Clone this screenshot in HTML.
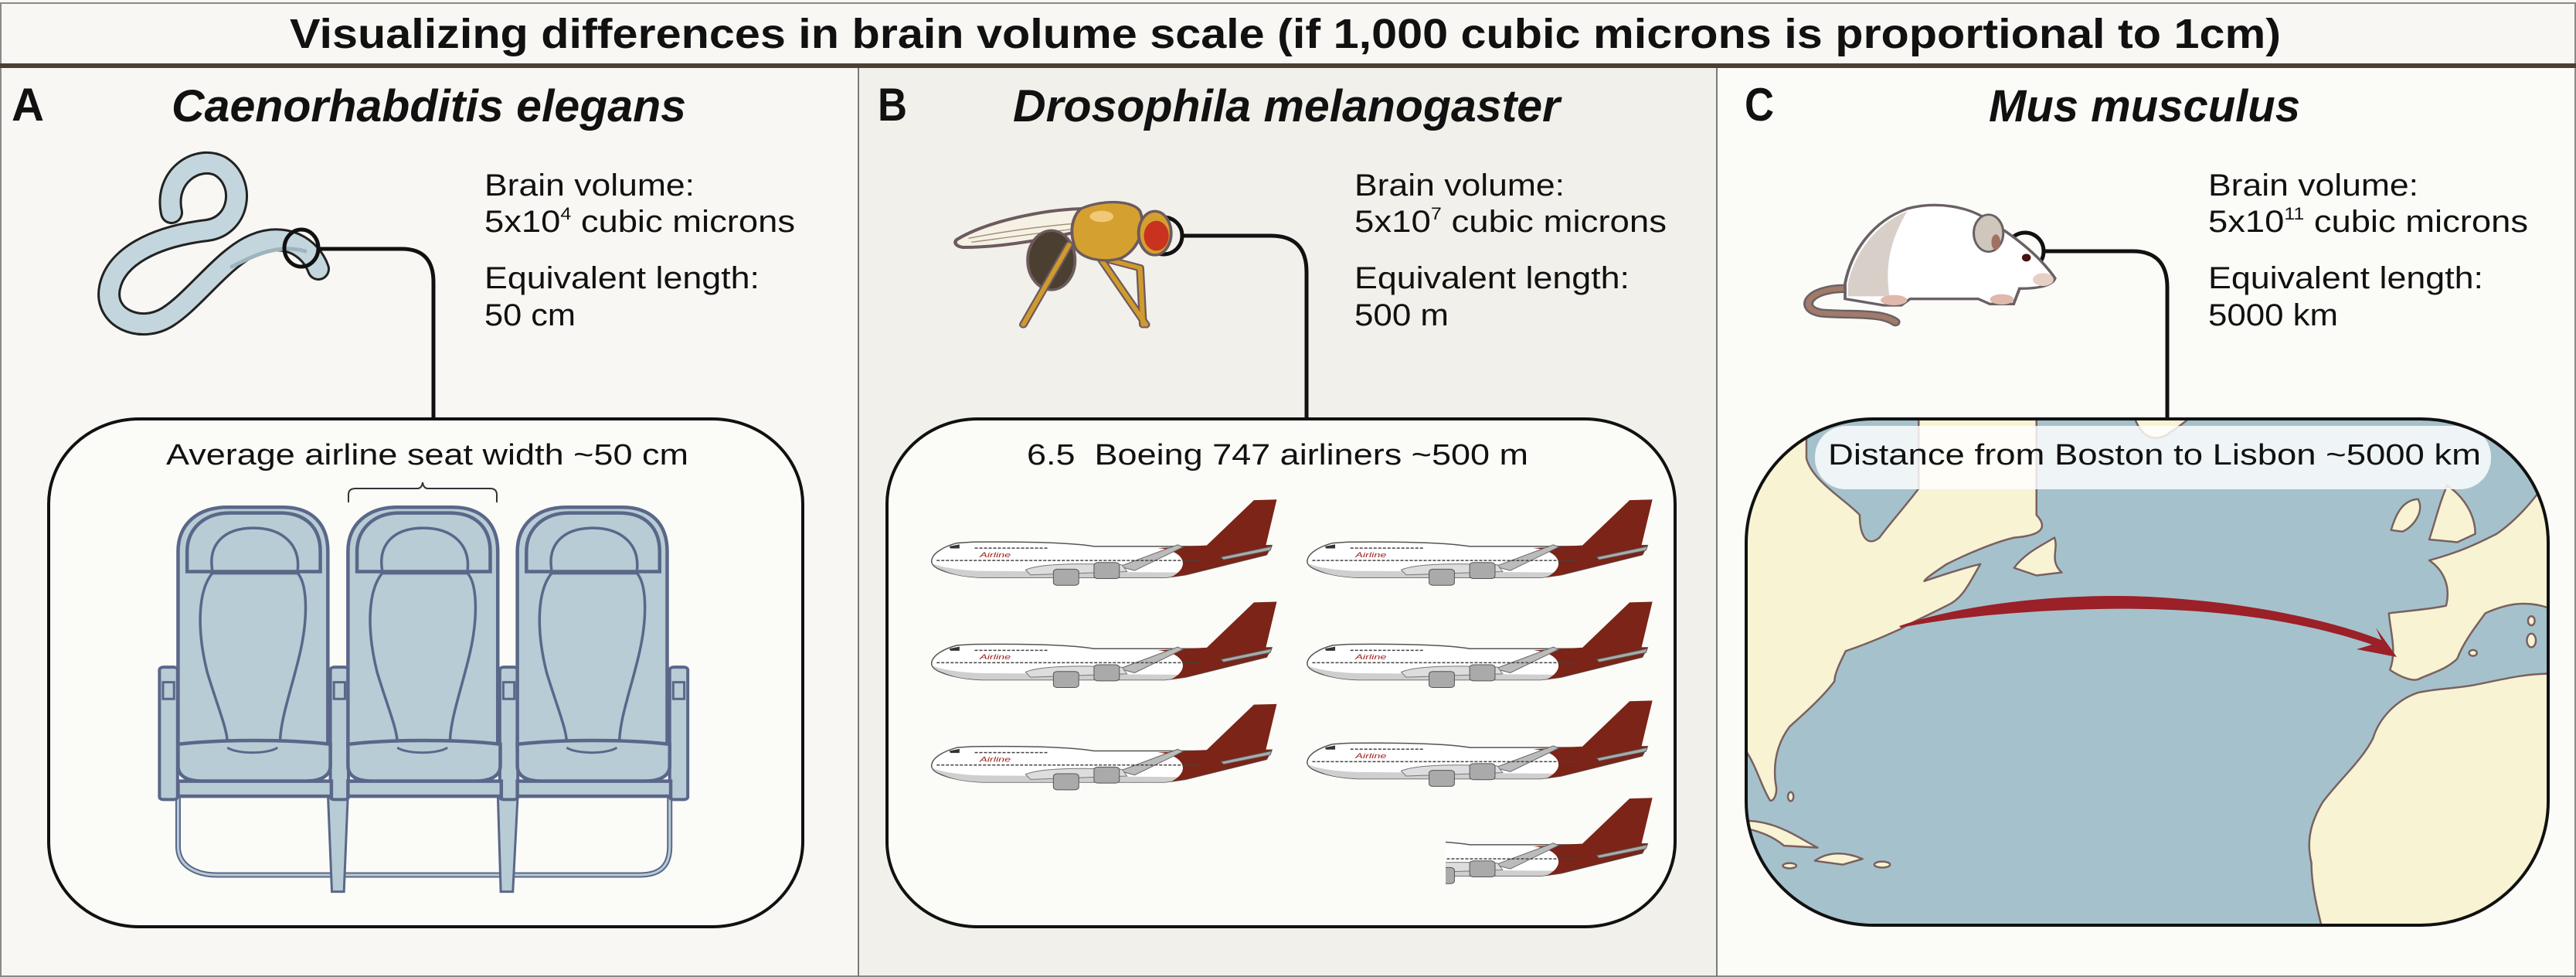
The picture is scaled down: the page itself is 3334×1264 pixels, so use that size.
<!DOCTYPE html>
<html><head><meta charset="utf-8"><style>
html,body{margin:0;padding:0;background:#f8f7f3;}
svg{display:block;}
text{font-family:"Liberation Sans",sans-serif;}
</style></head><body>
<svg width="3334" height="1264" viewBox="0 0 3334 1264" xmlns="http://www.w3.org/2000/svg">
<defs>
<clipPath id="mapclip"><rect x="2260" y="542" width="1038" height="655" rx="165" ry="160"/></clipPath>
<clipPath id="partclip"><rect x="1871" y="1020" width="300" height="140"/></clipPath>
<g id="pl">
 <path d="M5,185 C5,160 30,140 55,130 L85,127 C200,125 285,130 325,140 L545,140 L675,137 L665,165 L505,225 L465,233 L105,233 C55,230 5,210 5,185 Z" fill="#ffffff" stroke="#555" stroke-width="1.5" vector-effect="non-scaling-stroke"/>
 <path d="M5,190 C30,220 60,230 105,233 L465,233 L505,225 L520,218 L100,213 C50,210 20,200 5,190 Z" fill="#cfcfcf"/>
 <path d="M545,140 L640,2 L685,0 L663,140 Z" fill="#7b2417"/>
 <path d="M450,145 C500,150 520,200 475,233 L505,225 L665,165 L675,137 L545,137 Z" fill="#7b2417"/>
 <path d="M575,172 L675,140 L672,152 L580,180 Z" fill="#aaa" stroke="#555" stroke-width="1" vector-effect="non-scaling-stroke"/>
 <path d="M375,200 L490,135 L500,142 L405,212 Z" fill="#bbb" stroke="#666" stroke-width="1" vector-effect="non-scaling-stroke"/>
 <path d="M190,210 C220,190 300,190 380,195 L390,215 L200,225 Z" fill="#ddd" stroke="#777" stroke-width="1" vector-effect="non-scaling-stroke"/>
 <rect x="245" y="208" width="50" height="48" rx="8" fill="#aaa" stroke="#555" stroke-width="1" vector-effect="non-scaling-stroke"/>
 <rect x="325" y="188" width="50" height="48" rx="8" fill="#aaa" stroke="#555" stroke-width="1" vector-effect="non-scaling-stroke"/>
 <path d="M40,140 L60,134 L60,146 L42,146 Z" fill="#333"/>
 <line x1="15" y1="182" x2="535" y2="182" stroke="#444" stroke-width="1.5" stroke-dasharray="4 2" vector-effect="non-scaling-stroke"/>
 <line x1="90" y1="145" x2="235" y2="145" stroke="#444" stroke-width="1.5" stroke-dasharray="4 2" vector-effect="non-scaling-stroke"/>
 <text x="100" y="172" font-size="22" font-style="italic" fill="#a02020" font-family="Liberation Serif, serif">Airline</text>
</g>
<g id="seat">
 <path d="M262,980 L262,400 C262,320 300,268 360,268 L470,268 C530,268 560,320 560,400 L560,980 Z" fill="#b7ccd5" stroke="#5a6789" stroke-width="4.5" vector-effect="non-scaling-stroke"/>
 <path d="M280,460 L280,400 C280,335 312,285 365,285 L465,285 C520,285 545,335 545,400 L545,460 Z" fill="#b7ccd5" stroke="#5a6789" stroke-width="4.5" vector-effect="non-scaling-stroke"/>
 <path d="M330,455 C322,380 352,330 412,330 C470,330 505,380 500,455" fill="none" stroke="#5a6789" stroke-width="3.5" vector-effect="non-scaling-stroke"/>
 <path d="M330,465 C300,520 300,640 320,760 C340,860 360,930 360,970 L465,970 C465,900 490,800 505,700 C520,600 520,500 500,465 Z" fill="none" stroke="#5a6789" stroke-width="3.5" vector-effect="non-scaling-stroke"/>
 <path d="M262,975 L262,1040 C262,1070 280,1085 310,1085 L515,1085 C545,1085 565,1070 565,1040 L565,975 C480,960 350,960 262,975 Z" fill="#b7ccd5" stroke="#5a6789" stroke-width="4.5" vector-effect="non-scaling-stroke"/>
 <path d="M360,985 C380,1005 440,1005 460,985" fill="none" stroke="#5a6789" stroke-width="3" vector-effect="non-scaling-stroke"/>
 <rect x="262" y="1085" width="305" height="45" fill="#b7ccd5" stroke="#5a6789" stroke-width="4.5" vector-effect="non-scaling-stroke"/>
</g>
<g id="arm">
 <rect x="225" y="745" width="36" height="395" rx="8" fill="#b7ccd5" stroke="#5a6789" stroke-width="4" vector-effect="non-scaling-stroke"/>
 <rect x="232" y="790" width="22" height="50" fill="#b7ccd5" stroke="#5a6789" stroke-width="3" vector-effect="non-scaling-stroke"/>
</g>
</defs>

<!-- backgrounds -->
<rect x="0" y="0" width="3334" height="1264" fill="#f8f7f3"/>
<rect x="1111" y="88" width="1111" height="1176" fill="#f1f0ea"/>
<rect x="2222" y="88" width="1112" height="1176" fill="#fbfbf7"/>
<rect x="1" y="4" width="3332" height="1259" fill="none" stroke="#8a8a8a" stroke-width="2"/>
<rect x="0" y="82" width="3334" height="6" fill="#4b4032"/>
<line x1="1111" y1="88" x2="1111" y2="1264" stroke="#7a7a7a" stroke-width="2"/>
<line x1="2222" y1="88" x2="2222" y2="1264" stroke="#7a7a7a" stroke-width="2"/>

<!-- title -->
<text x="375" y="62" font-size="54" font-weight="bold" fill="#111" textLength="2577" lengthAdjust="spacingAndGlyphs">Visualizing differences in brain volume scale (if 1,000 cubic microns is proportional to 1cm)</text>

<!-- headings -->
<text x="15" y="156" font-size="60" font-weight="bold" fill="#111" textLength="42" lengthAdjust="spacingAndGlyphs">A</text>
<text x="222" y="157" font-size="58" font-weight="bold" font-style="italic" fill="#111" textLength="666" lengthAdjust="spacingAndGlyphs">Caenorhabditis elegans</text>
<text x="1136" y="156" font-size="60" font-weight="bold" fill="#111" textLength="38" lengthAdjust="spacingAndGlyphs">B</text>
<text x="1311" y="157" font-size="58" font-weight="bold" font-style="italic" fill="#111" textLength="708" lengthAdjust="spacingAndGlyphs">Drosophila melanogaster</text>
<text x="2258" y="156" font-size="60" font-weight="bold" fill="#111" textLength="38" lengthAdjust="spacingAndGlyphs">C</text>
<text x="2574" y="157" font-size="58" font-weight="bold" font-style="italic" fill="#111" textLength="403" lengthAdjust="spacingAndGlyphs">Mus musculus</text>

<!-- info texts -->
<g font-size="40" fill="#111">
 <text x="627" y="253" textLength="272" lengthAdjust="spacingAndGlyphs">Brain volume:</text>
 <text x="627" y="300" textLength="402" lengthAdjust="spacingAndGlyphs">5x10<tspan font-size="22" dy="-16">4</tspan><tspan dy="16"> cubic microns</tspan></text>
 <text x="627" y="373" textLength="356" lengthAdjust="spacingAndGlyphs">Equivalent length:</text>
 <text x="627" y="421" textLength="118" lengthAdjust="spacingAndGlyphs">50 cm</text>

 <text x="1753" y="253" textLength="272" lengthAdjust="spacingAndGlyphs">Brain volume:</text>
 <text x="1753" y="300" textLength="404" lengthAdjust="spacingAndGlyphs">5x10<tspan font-size="22" dy="-16">7</tspan><tspan dy="16"> cubic microns</tspan></text>
 <text x="1753" y="373" textLength="356" lengthAdjust="spacingAndGlyphs">Equivalent length:</text>
 <text x="1753" y="421" textLength="122" lengthAdjust="spacingAndGlyphs">500 m</text>

 <text x="2858" y="253" textLength="272" lengthAdjust="spacingAndGlyphs">Brain volume:</text>
 <text x="2858" y="300" textLength="414" lengthAdjust="spacingAndGlyphs">5x10<tspan font-size="22" dy="-16">11</tspan><tspan dy="16"> cubic microns</tspan></text>
 <text x="2858" y="373" textLength="356" lengthAdjust="spacingAndGlyphs">Equivalent length:</text>
 <text x="2858" y="421" textLength="168" lengthAdjust="spacingAndGlyphs">5000 km</text>
</g>

<!-- worm -->
<g fill="none" stroke-linecap="round" stroke-linejoin="round">
 <path d="M222,275 C212,228 255,200 285,215 C318,235 312,292 268,298 C200,306 150,332 142,372 C134,412 182,432 217,410 C252,388 290,332 330,316 C370,300 402,320 412,348" stroke="#222" stroke-width="30"/>
 <path d="M222,275 C212,228 255,200 285,215 C318,235 312,292 268,298 C200,306 150,332 142,372 C134,412 182,432 217,410 C252,388 290,332 330,316 C370,300 402,320 412,348" stroke="#c3d6de" stroke-width="24"/>
 <path d="M300,345 C330,330 360,315 395,325" stroke="#9fb4bd" stroke-width="5"/>
</g>
<!-- connectors -->
<g fill="none" stroke="#111" stroke-width="5">
 <ellipse cx="390" cy="321" rx="22" ry="24"/>
 <path d="M412,322 L520,322 Q561,322 561,365 L561,542"/>
 <circle cx="1506" cy="305" r="24"/>
 <path d="M1530,305 L1645,305 Q1691,305 1691,352 L1691,542"/>
 <circle cx="2621" cy="325" r="24"/>
 <path d="M2645,325 L2760,325 Q2805,325 2805,372 L2805,542"/>
</g>

<!-- fly -->
<g transform="translate(1200,220) scale(0.3827,0.3333)">
 <path d="M100,270 C200,200 400,150 540,150 L540,230 C400,270 250,300 120,300 C95,295 90,280 100,270 Z" fill="#f5f1e4" stroke="#6d5a5e" stroke-width="12"/>
 <path d="M140,265 C250,240 400,215 530,205 M150,280 C250,265 400,240 530,225" stroke="#9c8a70" stroke-width="4" fill="none"/>
 <ellipse cx="420" cy="350" rx="80" ry="115" fill="#4a3f30" stroke="#6d5a5e" stroke-width="10"/>
 <g stroke="#6d5a5e" stroke-width="28" fill="none" stroke-linecap="round" stroke-linejoin="round">
  <path d="M480,290 L390,470 L325,600"/><path d="M560,300 L650,450 L740,600"/><path d="M620,350 L720,380 L730,600"/>
 </g>
 <g stroke="#d09a2c" stroke-width="16" fill="none" stroke-linecap="round" stroke-linejoin="round">
  <path d="M480,290 L390,470 L325,600"/><path d="M560,300 L650,450 L740,600"/><path d="M620,350 L720,380 L730,600"/>
 </g>
 <path d="M520,150 C600,110 700,120 720,160 C740,220 720,300 660,340 C600,365 520,345 500,300 C480,240 490,180 520,150 Z" fill="#d4a030" stroke="#6d5a5e" stroke-width="10"/>
 <ellipse cx="590" cy="180" rx="40" ry="22" fill="#f0c878"/>
 <ellipse cx="770" cy="245" rx="55" ry="85" fill="#d4a030" stroke="#6d5a5e" stroke-width="10"/>
 <ellipse cx="775" cy="255" rx="42" ry="58" fill="#c8321e"/>
</g>

<!-- mouse -->
<g transform="translate(2300,200) scale(0.3827,0.3333)">
 <path d="M230,520 C100,520 70,600 150,615 C250,625 350,610 400,650" fill="none" stroke="#6a6065" stroke-width="34" stroke-linecap="round"/>
 <path d="M230,520 C100,520 70,600 150,615 C250,625 350,610 400,650" fill="none" stroke="#a07a6a" stroke-width="20" stroke-linecap="round"/>
 <path d="M230,500 C250,380 320,260 440,210 C540,180 650,200 720,260 C780,300 880,380 940,480 C930,510 880,520 820,520 L800,580 L720,580 L680,560 L450,560 L420,585 L360,585 L230,560 Z" fill="#ffffff" stroke="#6a6065" stroke-width="10"/>
 <path d="M240,500 C260,390 330,270 440,220 C400,300 360,400 380,550 L240,550 Z" fill="#d8d0c8"/>
 <ellipse cx="715" cy="305" rx="50" ry="72" fill="#cfc6bc" stroke="#6a6065" stroke-width="8"/>
 <ellipse cx="740" cy="340" rx="15" ry="30" fill="#a07060"/>
 <ellipse cx="395" cy="565" rx="45" ry="20" fill="#e0b8ac"/>
 <ellipse cx="760" cy="562" rx="40" ry="20" fill="#e0b8ac"/>
 <ellipse cx="900" cy="485" rx="35" ry="25" fill="#e8cfc6"/>
 <circle cx="843" cy="400" r="15" fill="#4a1010"/>
</g>

<!-- Box A -->
<rect x="63" y="542" width="976" height="657" rx="117" ry="110" fill="#fbfbf8" stroke="#111" stroke-width="4"/>
<text x="215" y="601" font-size="38" fill="#111" textLength="676" lengthAdjust="spacingAndGlyphs">Average airline seat width ~50 cm</text>
<path d="M451,650 L451,640 Q451,632 460,632 L540,632 Q546,632 547,624 Q548,632 554,632 L634,632 Q643,632 643,640 L643,650" fill="none" stroke="#333" stroke-width="2"/>
<g transform="translate(60,540) scale(0.6506,0.4337)">
 <path d="M262,1130 L262,1280 C262,1340 300,1365 340,1365 L1180,1365 C1220,1365 1240,1340 1240,1280 L1240,1130" fill="none" stroke="#5a6789" stroke-width="7" vector-effect="non-scaling-stroke"/>
 <path d="M262,1130 L262,1280 C262,1340 300,1365 340,1365 L1180,1365 C1220,1365 1240,1340 1240,1280 L1240,1130" fill="none" stroke="#b7ccd5" stroke-width="3" vector-effect="non-scaling-stroke"/>
 <path d="M560,1120 L600,1120 L592,1415 L568,1415 Z" fill="#b7ccd5" stroke="#5a6789" stroke-width="3" vector-effect="non-scaling-stroke"/>
 <path d="M898,1120 L938,1120 L928,1415 L904,1415 Z" fill="#b7ccd5" stroke="#5a6789" stroke-width="3" vector-effect="non-scaling-stroke"/>
 <use href="#arm"/>
 <use href="#arm" transform="translate(340,0)"/>
 <use href="#arm" transform="translate(677,0)"/>
 <use href="#arm" transform="translate(1015,0)"/>
 <use href="#seat"/>
 <use href="#seat" transform="translate(338,0)"/>
 <use href="#seat" transform="translate(675,0)"/>
</g>

<!-- Box B -->
<rect x="1148" y="542" width="1020" height="657" rx="117" ry="110" fill="#fbfbf8" stroke="#111" stroke-width="4"/>
<text x="1329" y="601" font-size="38" fill="#111" textLength="649" lengthAdjust="spacingAndGlyphs" xml:space="preserve">6.5  Boeing 747 airliners ~500 m</text>
<use href="#pl" transform="translate(1202.4,646.2) scale(0.657,0.4337)"/>
<use href="#pl" transform="translate(1688.6,646.2) scale(0.657,0.4337)"/>
<use href="#pl" transform="translate(1202.4,778.5) scale(0.657,0.4337)"/>
<use href="#pl" transform="translate(1688.6,778.5) scale(0.657,0.4337)"/>
<use href="#pl" transform="translate(1202.4,910.8) scale(0.657,0.4337)"/>
<use href="#pl" transform="translate(1688.6,906.4) scale(0.657,0.4337)"/>
<g clip-path="url(#partclip)"><use href="#pl" transform="translate(1688.6,1032.2) scale(0.657,0.4337)"/></g>

<!-- Box C map -->
<g clip-path="url(#mapclip)">
 <rect x="2260" y="542" width="1038" height="655" fill="#a5c2cc"/>
 <g transform="translate(2200,500) scale(0.7262,0.489)" fill="#f8f3d3" stroke="#7a6060" stroke-width="2.5" stroke-linejoin="round">
  <path vector-effect="non-scaling-stroke" d="M0,0 L190,0 L190,190 C200,250 260,300 285,340 C285,400 300,425 320,400 C340,360 370,310 390,270 L390,0 L600,0 L600,340 C625,380 600,395 560,400 C530,410 480,440 440,470 C420,490 400,510 400,515 C430,500 470,480 500,470 C480,520 470,560 440,580 C400,610 370,630 360,640 C330,660 300,680 260,700 C250,730 240,760 240,780 C220,820 190,860 160,900 C140,940 130,990 135,1050 C140,1080 130,1100 125,1095 C110,1060 100,1000 80,960 L0,960 Z"/>
  <path vector-effect="non-scaling-stroke" d="M560,480 C580,440 610,420 632,400 C640,430 622,460 645,492 L600,500 Z"/>
  <path vector-effect="non-scaling-stroke" d="M770,60 C780,120 800,150 830,130 C850,110 870,90 890,60 Z"/>
  <path vector-effect="non-scaling-stroke" d="M60,1150 C130,1140 170,1190 210,1220 L150,1215 C130,1190 100,1170 60,1165 Z"/>
  <path vector-effect="non-scaling-stroke" d="M205,1255 C230,1228 262,1232 290,1250 L255,1265 Z"/>
  <ellipse vector-effect="non-scaling-stroke" cx="160" cy="1268" rx="12" ry="7"/>
  <ellipse vector-effect="non-scaling-stroke" cx="325" cy="1265" rx="14" ry="8"/>
  <ellipse vector-effect="non-scaling-stroke" cx="162" cy="1085" rx="5" ry="12"/>
  <path vector-effect="non-scaling-stroke" d="M1600,200 L1512,240 C1490,300 1450,360 1420,390 C1380,420 1350,440 1300,460 C1320,480 1340,520 1330,580 C1300,590 1250,595 1228,600 C1232,660 1242,700 1230,750 C1250,770 1270,780 1280,775 C1300,760 1330,750 1350,720 C1360,680 1380,640 1400,600 C1430,580 1470,560 1520,590 L1600,600 Z"/>
  <path vector-effect="non-scaling-stroke" d="M1600,760 L1512,760 C1470,760 1430,775 1380,790 C1340,800 1310,800 1280,810 C1240,830 1210,880 1200,930 C1180,990 1140,1040 1110,1100 C1090,1150 1080,1200 1090,1260 C1090,1320 1100,1380 1110,1440 L1600,1440 Z"/>
  <path vector-effect="non-scaling-stroke" d="M1300,405 C1312,350 1320,300 1332,262 C1362,292 1382,340 1382,390 L1350,412 Z"/>
  <path vector-effect="non-scaling-stroke" d="M1232,380 C1240,340 1252,300 1280,298 C1292,330 1272,372 1252,384 Z"/>
  <ellipse vector-effect="non-scaling-stroke" cx="1482" cy="620" rx="6" ry="12"/>
  <ellipse vector-effect="non-scaling-stroke" cx="1482" cy="672" rx="8" ry="18"/>
  <ellipse vector-effect="non-scaling-stroke" cx="1378" cy="705" rx="7" ry="8"/>
  <path vector-effect="non-scaling-stroke" d="M1440,80 C1450,140 1470,200 1512,230 L1520,80 Z"/>
 </g>
 <rect x="2349" y="551" width="875" height="82" rx="40" fill="#ffffff" fill-opacity="0.82"/>
 <path d="M2458,810 C2560,775 2700,768 2780,772 C2900,778 3010,800 3082,828 L3075,812 L3102,850 L3050,840 L3070,834 C3000,810 2900,790 2780,788 C2700,786 2560,792 2460,812 Z" fill="#9b2028"/>
</g>
<rect x="2260" y="542" width="1038" height="655" rx="165" ry="160" fill="none" stroke="#111" stroke-width="4"/>
<text x="2366" y="601" font-size="38" fill="#111" textLength="845" lengthAdjust="spacingAndGlyphs">Distance from Boston to Lisbon ~5000 km</text>
</svg>
</body></html>
